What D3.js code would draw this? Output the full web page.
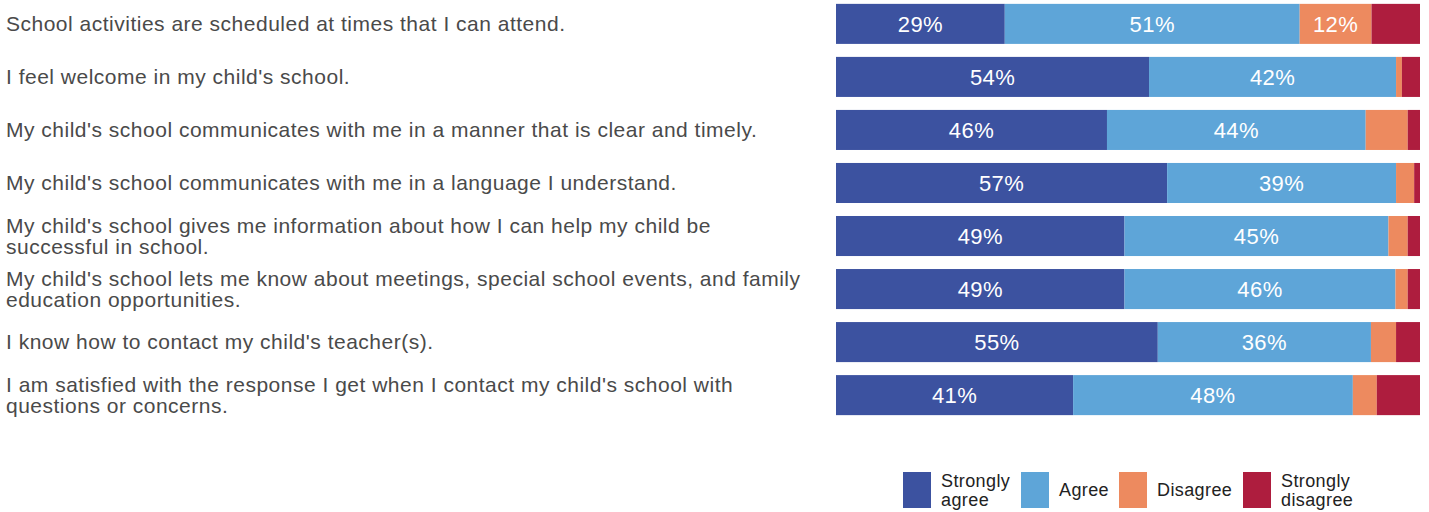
<!DOCTYPE html>
<html lang="en">
<head>
    <meta charset="UTF-8">
    <title>Family survey</title>
    <style>
        body { margin: 0; background: #fff; }
        text { font-family: "Liberation Sans", Arial, sans-serif; }
    </style>
</head>
<body>
<script src="https://d3js.org/d3.v7.min.js"></script>
<script>

    const questions = [
        "School activities are scheduled at times that I can attend.",
        "I feel welcome in my child's school.",
        "My child's school communicates with me in a manner that is clear and timely.",
        "My child's school communicates with me in a language I understand.",
        "My child's school gives me information about how I can help my child be successful in school.",
        "My child's school lets me know about meetings, special school events, and family education opportunities.",
        "I know how to contact my child's teacher(s).",
        "I am satisfied with the response I get when I contact my child's school with questions or concerns."
    ];
    const responses = ["Strongly agree", "Agree", "Disagree", "Strongly disagree"];
    const stronglyAgree = [28.9, 53.6, 46.4, 56.7, 49.4, 49.4, 55.1, 40.6];
    const agree = [50.5, 42.3, 44.3, 39.2, 45.2, 46.4, 36.5, 47.9];
    const disagree = [12.3, 1.0, 7.2, 3.1, 3.3, 2.1, 4.3, 4.1];
    const stronglyDisagree = [8.3, 3.1, 2.1, 1.0, 2.1, 2.1, 4.1, 7.4];
    const colors = ["#3c52a0", "#5ea5d8", "#ed8a5f", "#ae1d3e"];

    const width = 1429;
    const height = 512;

    const rows = questions.map((q, i) => ({
        question: q,
        "Strongly agree": stronglyAgree[i],
        "Agree": agree[i],
        "Disagree": disagree[i],
        "Strongly disagree": stronglyDisagree[i]
    }));

    const stacked = d3.stack().keys(responses)(rows);

    const svg = d3.select('body').append('svg')
        .attr('width', width)
        .attr('height', height);

    const x = d3.scaleLinear().domain([0, 100]).range([836, 1420]);
    const y = d3.scaleBand().domain(questions).range([-2.5, 421.5]).paddingInner(0.245).paddingOuter(0.12);
    const color = d3.scaleOrdinal().domain(responses).range(colors);

    const layers = svg.append('g').selectAll('g')
        .data(stacked)
        .enter().append('g')
        .attr('fill', d => color(d.key));

    layers.selectAll('rect')
        .data(d => d)
        .enter().append('rect')
        .attr('x', d => x(d[0]))
        .attr('y', d => y(d.data.question))
        .attr('width', d => x(d[1]) - x(d[0]))
        .attr('height', y.bandwidth());

    // percentage labels on the bigger segments
    layers.selectAll('text')
        .data(d => d.filter(s => s[1] - s[0] >= 10))
        .enter().append('text')
        .attr('x', d => (x(d[0]) + x(d[1])) / 2)
        .attr('y', d => y(d.data.question) + y.bandwidth() / 2)
        .attr('dy', '0.35em')
        .attr('text-anchor', 'middle')
        .attr('fill', '#fff')
        .style('font-size', '22px')
        .style('letter-spacing', '0.4px')
        .text(d => Math.round(d[1] - d[0]) + '%');

    // question labels, wrapped
    const labels = svg.append('g').selectAll('text')
        .data(questions)
        .enter().append('text')
        .attr('x', 6)
        .attr('fill', '#4a4a4a')
        .style('font-size', '21px')
        .style('letter-spacing', '0.5px');

    labels.each(function (q) {
        const el = d3.select(this);
        const words = q.split(' ');
        const lines = [];
        let line = [];
        const probe = el.append('tspan');
        words.forEach(w => {
            line.push(w);
            probe.text(line.join(' '));
            if (probe.node().getComputedTextLength() > 808 && line.length > 1) {
                line.pop();
                lines.push(line.join(' '));
                line = [w];
            }
        });
        lines.push(line.join(' '));
        probe.remove();
        const lh = 21;
        const cy = y(q) + y.bandwidth() / 2 - (lines.length - 1) * lh / 2;
        lines.forEach((l, i) => {
            el.append('tspan')
                .attr('x', 6)
                .attr('y', cy + i * lh)
                .attr('dy', '0.35em')
                .text(l);
        });
    });

    // legend
    const legendX = [903, 1021, 1119, 1243];
    const legend = svg.append('g').selectAll('g')
        .data(responses)
        .enter().append('g')
        .attr('transform', (d, i) => 'translate(' + legendX[i] + ',472)');

    legend.append('rect')
        .attr('width', 28)
        .attr('height', 36)
        .attr('fill', d => color(d));

    legend.append('text')
        .attr('fill', '#222')
        .style('font-size', '18px')
        .style('letter-spacing', '0.4px')
        .each(function (d) {
            const parts = d.split(' ');
            const el = d3.select(this);
            parts.forEach((p, i) => {
                el.append('tspan')
                    .attr('x', 38)
                    .attr('y', 18 + (i - (parts.length - 1) / 2) * 19.5)
                    .attr('dy', '0.35em')
                    .text(p);
            });
        });

</script>
</body>
</html>
